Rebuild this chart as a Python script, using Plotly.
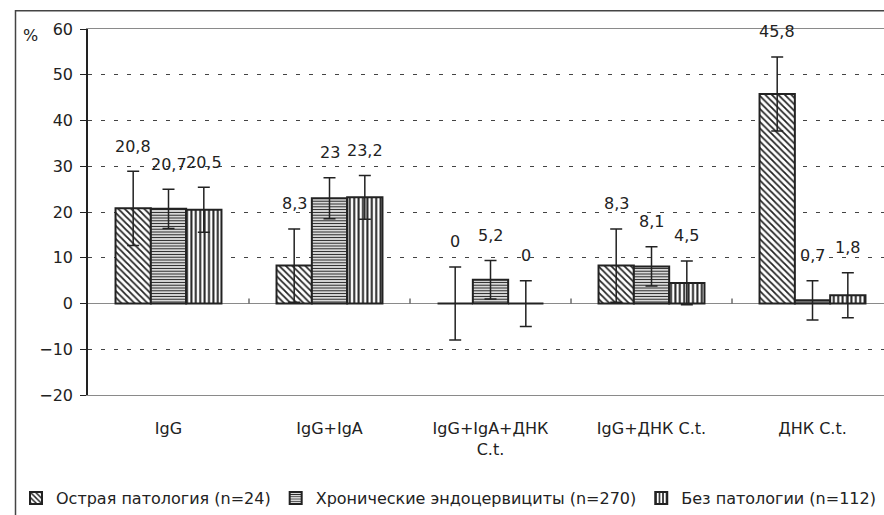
import plotly.graph_objects as go

# Categories and series
categories = ["IgG", "IgG+IgA", "IgG+IgA+ДНК<br>C.t.", "IgG+ДНК C.t.", "ДНК C.t."]
series_names = [
    "Острая патология (n=24)",
    "Хронические эндоцервициты (n=270)",
    "Без патологии (n=112)",
]
acute = [20.8, 8.3, 0, 8.3, 45.8]
chronic = [20.7, 23, 5.2, 8.1, 0.7]
no_pathology = [20.5, 23.2, 0, 4.5, 1.8]

acute_err = [8.1, 8.0, 8.0, 8.0, 8.1]
chronic_err = [4.3, 4.5, 4.2, 4.3, 4.3]
no_pathology_err = [4.9, 4.8, 5.0, 4.8, 4.9]

y_ticks = [-20, -10, 0, 10, 20, 30, 40, 50, 60]

FONT = "DejaVu Sans"
FS = 16
INK = "#222222"
BARGAP = 0.342

values = [acute, chronic, no_pathology]
errors = [acute_err, chronic_err, no_pathology_err]
patterns = [
    dict(shape="\\", size=4.6, solidity=0.38),
    dict(shape="-", size=2.8, solidity=0.45),
    dict(shape="|", size=4.4, solidity=0.45),
]

x_pos = list(range(len(categories)))

fig = go.Figure()
for name, vals, errs, pat in zip(series_names, values, errors, patterns):
    fig.add_trace(go.Bar(
        x=x_pos,
        y=vals,
        name=name,
        marker=dict(
            color="white",
            line=dict(color=INK, width=2),
            pattern=dict(fgcolor=INK, bgcolor="white", fillmode="replace", **pat),
        ),
        error_y=dict(type="data", array=errs, visible=True,
                     color=INK, thickness=1.5, width=6),
    ))

# Value labels above each error bar
bar_w = (1 - BARGAP) / 3
for k, (vals, errs) in enumerate(zip(values, errors)):
    for i, (v, e) in enumerate(zip(vals, errs)):
        fig.add_annotation(
            x=i + (k - 1) * bar_w, y=v + e, xref="x", yref="y",
            text=f"{v:g}".replace(".", ","), showarrow=False,
            xanchor="center", yanchor="middle", yshift=25,
            font=dict(family=FONT, size=FS, color=INK),
        )

# Small marks on the zero line between category groups
for b in [i + 0.5 for i in x_pos]:
    fig.add_shape(type="line", xref="x", yref="y", ysizemode="pixel",
                  yanchor=0, x0=b, x1=b, y0=0, y1=5,
                  line=dict(color="#555555", width=1.3))

# Outer chart frame
pw, ph = 796, 369
fig.add_shape(type="rect", xref="paper", yref="paper",
              x0=(15.5 - 88) / pw, x1=1.2,
              y0=-0.6, y1=(398 - 10.5) / ph,
              line=dict(color="#444444", width=1.5), layer="below")

fig.add_annotation(x=(30 - 88) / pw, y=(398 - 36) / ph, xref="paper", yref="paper",
                   text="%", showarrow=False, xanchor="center", yanchor="middle",
                   font=dict(family=FONT, size=FS, color=INK))

fig.update_layout(
    width=884, height=515,
    margin=dict(l=88, r=0, t=29, b=117),
    paper_bgcolor="white", plot_bgcolor="white",
    barmode="group", bargap=BARGAP, bargroupgap=0,
    font=dict(family=FONT, size=FS, color=INK),
    showlegend=True,
    legend=dict(orientation="h", x=(16 - 88) / pw, xanchor="left",
                y=(398 - 502) / ph, yanchor="middle",
                font=dict(family=FONT, size=FS, color=INK),
                itemwidth=30, bgcolor="rgba(0,0,0,0)", traceorder="normal"),
    xaxis=dict(range=[-0.5, 4.444], tickvals=x_pos, ticktext=categories,
               showline=True, mirror=True, linecolor="#8a8a8a", linewidth=1.3,
               ticks="", showgrid=False, zeroline=False,
               tickfont=dict(family=FONT, size=FS, color=INK),
               ticklabelstandoff=19, fixedrange=True),
    yaxis=dict(range=[-20, 60], tickvals=y_ticks, showline=True,
               linecolor=INK, linewidth=1.5, ticks="outside", ticklen=6,
               tickcolor=INK, tickwidth=1.3, ticklabelstandoff=4,
               showgrid=True, gridcolor="#444444", gridwidth=1, griddash="4px,9px",
               zeroline=True, zerolinecolor="#8a8a8a", zerolinewidth=1.3,
               tickfont=dict(family=FONT, size=FS, color=INK), fixedrange=True),
)

fig.write_html("out.html")
